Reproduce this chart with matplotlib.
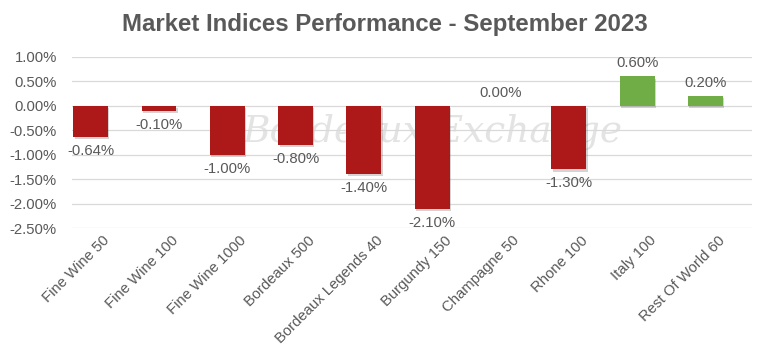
import matplotlib
matplotlib.use("Agg")
import matplotlib.pyplot as plt
import matplotlib.patheffects as pe
import matplotlib.transforms as mtransforms
from matplotlib.ticker import FuncFormatter

categories = ["Fine Wine 50", "Fine Wine 100", "Fine Wine 1000", "Bordeaux 500",
              "Bordeaux Legends 40", "Burgundy 150", "Champagne 50", "Rhone 100",
              "Italy 100", "Rest Of World 60"]
values = [-0.64, -0.10, -1.00, -0.80, -1.40, -2.10, 0.00, -1.30, 0.60, 0.20]
yticks = [1.0, 0.5, 0.0, -0.5, -1.0, -1.5, -2.0, -2.5]

RED = "#AD1819"
GREEN = "#70AD47"
TXT = "#595959"
FS = 10.7

plt.rcParams['font.family'] = ['Liberation Sans', 'DejaVu Sans']

fig = plt.figure(figsize=(7.68, 3.51), dpi=100)
ax = fig.add_axes([0.094, 0.350, 0.885, 0.488])

# watermark
ax.text(0.53, 0.565, "Bordeaux Exchange", transform=ax.transAxes, ha="center", va="center",
        fontsize=27, color="#DADADA", alpha=0.75, family="DejaVu Serif", style="italic", zorder=1)

x = list(range(len(categories)))
colors = [GREEN if v > 0 else RED for v in values]
bars = ax.bar(x, values, width=0.51, color=colors, zorder=3)
for b in bars:
    b.set_path_effects([pe.SimplePatchShadow(offset=(1.0, -1.5), alpha=0.25, shadow_rgbFace="#555555"), pe.Normal()])

for xi, v in zip(x, values):
    if v < 0:
        ax.annotate(f"{v:.2f}%", (xi, v), xytext=(0, -5), textcoords="offset points",
                    ha="center", va="top", fontsize=FS, color=TXT, zorder=4)
    else:
        ax.annotate(f"{v:.2f}%", (xi, v), xytext=(0, 4.5), textcoords="offset points",
                    ha="center", va="bottom", fontsize=FS, color=TXT, zorder=4)

ax.set_xlim(-0.27, 9.68)
ax.set_ylim(-2.5, 1.0)
ax.set_yticks(yticks)
ax.yaxis.set_major_formatter(FuncFormatter(lambda v, p: f"{v:.2f}%"))
ax.grid(axis="y", color="#D9D9D9", linewidth=0.9, zorder=0)
ax.set_axisbelow(True)
for s in ax.spines.values():
    s.set_visible(False)
ax.tick_params(axis="y", length=0, labelsize=FS, colors=TXT, pad=11)
ax.set_xticks(x)
ax.set_xticklabels(categories, rotation=45, ha="right", rotation_mode="anchor")
ax.tick_params(axis="x", length=0, labelsize=FS, colors=TXT, pad=3)
offset = mtransforms.ScaledTranslation(12 / 100, -1 / 100, fig.dpi_scale_trans)
for lbl in ax.get_xticklabels():
    lbl.set_transform(lbl.get_transform() + offset)

fig.suptitle("Market Indices Performance - September 2023", x=0.501, y=0.962,
             fontsize=17.3, fontweight="bold", color=TXT)

fig.savefig("out.png", dpi=100, facecolor="white")
